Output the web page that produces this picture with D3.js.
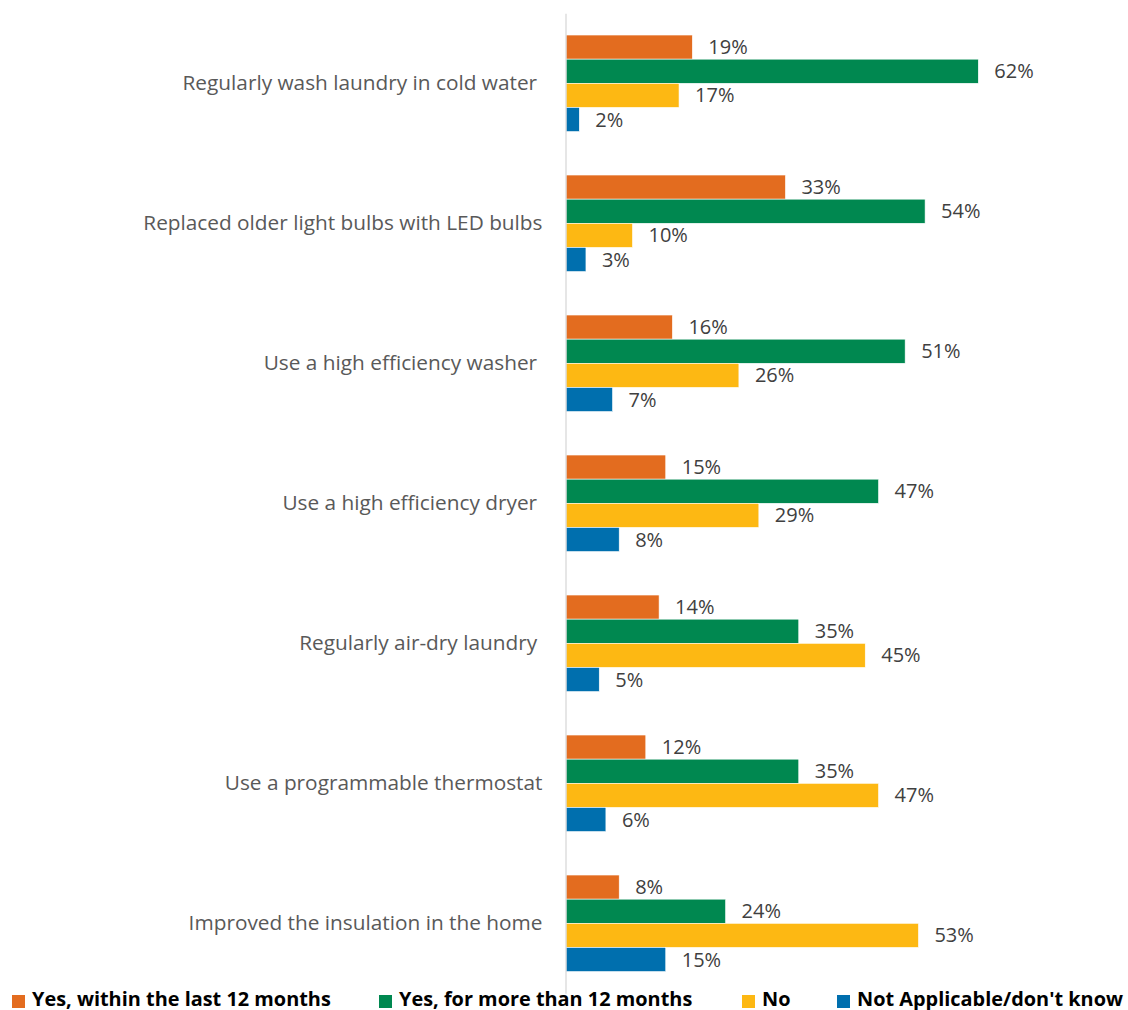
<!DOCTYPE html>
<html>
<head>
<meta charset="utf-8">
<script src="https://cdn.jsdelivr.net/npm/d3@7"></script>
<style>
  html, body { margin: 0; padding: 0; background: #fff; }
  svg { display: block; }
  .cat { font-family: "Open Sans", sans-serif; font-size: 20.8px; fill: #595959; white-space: pre; }
  .val { font-family: "Open Sans", sans-serif; font-size: 20px; fill: #404040; }
  .leg { font-family: "Open Sans", sans-serif; font-size: 19.9px; font-weight: bold; fill: #000; }
</style>
</head>
<body>
<svg id="chart" width="1128" height="1010"></svg>
<script>
// Survey actions and share of respondents per answer
const categories = [
  "Regularly wash laundry in cold water ",
  "Replaced older light bulbs with LED bulbs",
  "Use a high efficiency washer ",
  "Use a high efficiency dryer ",
  "Regularly air-dry laundry ",
  "Use a programmable thermostat",
  "Improved the insulation in the home"
];
const seriesNames = [
  "Yes, within the last 12 months",
  "Yes, for more than 12 months",
  "No",
  "Not Applicable/don't know"
];
const withinYear    = [19, 33, 16, 15, 14, 12, 8];
const overYear      = [62, 54, 51, 47, 35, 35, 24];
const answeredNo    = [17, 10, 26, 29, 45, 47, 53];
const notApplicable = [2, 3, 7, 8, 5, 6, 15];
const seriesValues = [withinYear, overYear, answeredNo, notApplicable];
const colors = ["#E36C1F", "#008850", "#FDB813", "#006FAE"];

const svg = d3.select("#chart");
const x0 = 566;
const x = d3.scaleLinear().domain([0, 100]).range([x0, x0 + 665]);
const y = d3.scaleBand().domain(categories).range([13.3, 993.3]).paddingInner(0).paddingOuter(0);
const yInner = d3.scaleBand().domain(d3.range(seriesNames.length))
  .range([0, y.bandwidth()]).paddingOuter(0.9).paddingInner(0);

// bars with value labels
categories.forEach((cat, ci) => {
  const g = svg.append("g").attr("transform", `translate(0,${y(cat)})`);
  seriesValues.forEach((vals, si) => {
    const v = vals[ci];
    g.append("rect")
      .attr("x", x(0))
      .attr("y", yInner(si))
      .attr("width", x(v) - x(0))
      .attr("height", yInner.bandwidth())
      .attr("fill", colors[si])
      .attr("stroke", "#fff")
      .attr("stroke-width", 0.6);
    g.append("text")
      .attr("class", "val")
      .attr("x", x(v) + 16)
      .attr("y", yInner(si) + yInner.bandwidth() / 2)
      .attr("dy", "0.35em")
      .text(v + "%");
  });
});

// category axis
const axis = d3.axisLeft(y).tickSize(0).tickPadding(23);
const ag = svg.append("g").attr("transform", `translate(${x0 - 0.5},0)`).call(axis);
ag.select(".domain").attr("stroke", "#d9d9d9").attr("stroke-width", 1.3);
ag.selectAll(".tick text").attr("class", "cat").attr("font-family", null).attr("font-size", null).attr("fill", null);

// legend
const legX = [12, 379, 742, 837];
const leg = svg.append("g");
seriesNames.forEach((name, i) => {
  leg.append("rect").attr("x", legX[i]).attr("y", 995).attr("width", 13).attr("height", 13).attr("fill", colors[i]);
  leg.append("text").attr("class", "leg").attr("x", legX[i] + 20).attr("y", 1005.5).text(name);
});
</script>
</body>
</html>
